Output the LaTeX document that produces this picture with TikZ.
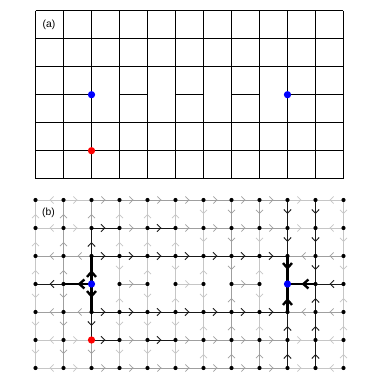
\documentclass[tikz,border=0pt]{standalone}
\usepackage{fontspec}
\setmainfont{Liberation Sans}
\usetikzlibrary{arrows.meta, decorations.markings}

\tikzset{
  faint/.style={draw=gray!45, line width=0.8pt},
  mid/.style={draw=gray!75, line width=0.8pt},
  dark/.style={draw=black!90, line width=1pt},
  bold/.style={draw=black, line width=2.4pt},
  gap/.style={draw=none},
  nodir/.style={},
  fwd/.style={postaction={decorate, decoration={markings,
      mark=at position 0.5 with {\arrow{Straight Barb[length=1mm 1, width=2.2mm 1.2]}}}}},
  bwd/.style={postaction={decorate, decoration={markings,
      mark=at position 0.5 with {\arrowreversed{Straight Barb[length=1mm 1, width=2.2mm 1.2]}}}}},
  tag/.style={font=\fontsize{10.5}{12}\selectfont},
}

\begin{document}
\begin{tikzpicture}
\useasboundingbox (0,0) rectangle (13.536,13.536);

% Panel (a): lattice with merged cells
\begin{scope}[shift={(1.268,13.154)}, line width=0.8pt]
\foreach \k in {0,...,11} {
   \draw (\k,0) -- (\k,-6);
}
\foreach \j in {0,1,2,4,5,6} {
   \draw (0,-\j) -- (11,-\j);
}
\foreach \k in {0,1,3,5,7,9,10} {
   \draw (\k,-3) -- ++(1,0);
}
\coordinate (a-src) at (2,-3);
\coordinate (a-snk) at (9,-3);
\coordinate (a-red) at (2,-5);
\fill[blue] (a-src) circle (0.13);
\fill[blue] (a-snk) circle (0.13);
\fill[red] (a-red) circle (0.13);
\end{scope}
\node[tag] (lab-a) at (1.75,12.64) {(a)};

% Panel (b): flow on the lattice
\begin{scope}[shift={(1.268,6.393)}]
\foreach \k in {0,...,11} {
   \foreach \j in {0,...,6} {
      \coordinate (p\k-\j) at (\k,-\j);
   }
}

% Horizontal links
\foreach \j/\row in {
   0/{bwd/faint,fwd/faint,fwd/mid,fwd/mid,fwd/mid,fwd/mid,fwd/mid,fwd/mid,fwd/mid,fwd/faint,bwd/faint},
   1/{bwd/faint,fwd/faint,fwd/dark,fwd/mid,fwd/dark,fwd/mid,fwd/mid,fwd/mid,fwd/mid,fwd/faint,bwd/faint},
   2/{bwd/mid,bwd/mid,fwd/dark,fwd/dark,fwd/dark,fwd/dark,fwd/dark,fwd/dark,fwd/dark,bwd/mid,bwd/mid},
   3/{bwd/dark,bwd/bold,nodir/gap,fwd/mid,nodir/gap,fwd/faint,nodir/gap,fwd/mid,nodir/gap,bwd/bold,bwd/dark},
   4/{bwd/mid,bwd/mid,fwd/dark,fwd/dark,fwd/dark,fwd/dark,fwd/dark,fwd/dark,fwd/dark,bwd/mid,bwd/mid},
   5/{bwd/faint,fwd/faint,fwd/dark,fwd/mid,fwd/dark,fwd/mid,fwd/mid,fwd/mid,fwd/mid,fwd/faint,bwd/faint},
   6/{bwd/faint,fwd/faint,fwd/mid,fwd/mid,fwd/mid,fwd/mid,fwd/mid,fwd/mid,fwd/mid,fwd/faint,bwd/faint}} {
   \foreach \d/\s [count=\k from 0] in \row {
      \pgfmathtruncatemacro\kk{\k+1}
      \draw[\s,\d] (p\k-\j) -- (p\kk-\j);
   }
}

% Vertical links (fwd = downwards)
\foreach \k/\col in {
   0/{bwd/faint,bwd/faint,bwd/faint,fwd/faint,fwd/faint,fwd/faint},
   1/{bwd/mid,bwd/mid,bwd/mid,fwd/mid,fwd/mid,fwd/mid},
   2/{bwd/mid,bwd/dark,bwd/bold,fwd/bold,fwd/dark,fwd/mid},
   3/{bwd/faint,bwd/faint,fwd/faint,bwd/faint,fwd/faint,fwd/faint},
   4/{bwd/faint,bwd/faint,bwd/faint,fwd/faint,fwd/faint,fwd/faint},
   5/{bwd/faint,bwd/faint,fwd/faint,bwd/faint,fwd/faint,fwd/faint},
   6/{fwd/faint,fwd/faint,bwd/faint,fwd/faint,bwd/faint,bwd/faint},
   7/{fwd/mid,fwd/mid,fwd/mid,bwd/mid,bwd/mid,bwd/mid},
   8/{fwd/mid,fwd/faint,bwd/faint,fwd/faint,bwd/faint,bwd/mid},
   9/{fwd/dark,fwd/dark,fwd/bold,bwd/bold,bwd/dark,bwd/dark},
   10/{fwd/dark,fwd/dark,fwd/dark,bwd/dark,bwd/dark,bwd/dark},
   11/{fwd/faint,fwd/faint,fwd/faint,bwd/faint,bwd/faint,bwd/faint}} {
   \foreach \d/\s [count=\j from 0] in \col {
      \pgfmathtruncatemacro\jj{\j+1}
      \draw[\s,\d] (p\k-\j) -- (p\k-\jj);
   }
}

% Sites
\foreach \k in {0,...,11} {
   \foreach \j in {0,...,6} {
      \fill (p\k-\j) circle (0.075);
   }
}
\fill[blue] (p2-3) circle (0.13);
\fill[blue] (p9-3) circle (0.13);
\fill[red] (p2-5) circle (0.13);
\end{scope}
\node[tag] (lab-b) at (1.73,5.93) {(b)};
\end{tikzpicture}
\end{document}
